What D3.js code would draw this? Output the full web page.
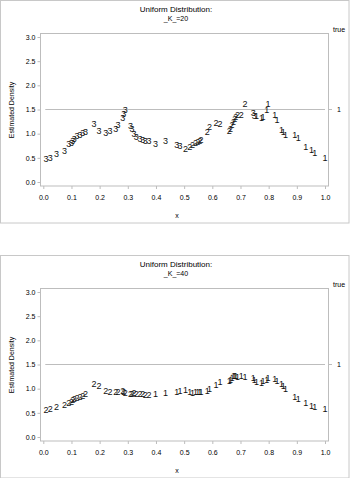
<!DOCTYPE html>
<html>
<head>
<meta charset="utf-8">
<script src="https://cdn.jsdelivr.net/npm/d3@7"></script>
<style>
  body { margin: 0; background: #fff; }
  svg text { font-family: 'Liberation Sans', Arial, sans-serif; fill: #000; }
</style>
</head>
<body>
<svg id="chart" width="350" height="478"></svg>
<script>
// x sample positions (shared by both panels)
var xs = [0.010, 0.025, 0.047, 0.075, 0.090, 0.100, 0.105, 0.110, 0.120, 0.130,
  0.140, 0.150, 0.180, 0.198, 0.222, 0.237, 0.257, 0.265, 0.282, 0.286,
  0.291, 0.310, 0.315, 0.322, 0.330, 0.343, 0.353, 0.362, 0.375, 0.398,
  0.434, 0.474, 0.485, 0.505, 0.520, 0.530, 0.540, 0.548, 0.555, 0.560,
  0.582, 0.590, 0.613, 0.627, 0.660, 0.665, 0.670, 0.675, 0.680, 0.683,
  0.689, 0.703, 0.716, 0.745, 0.749, 0.757, 0.775, 0.780, 0.793, 0.798,
  0.822, 0.830, 0.846, 0.852, 0.860, 0.893, 0.905, 0.932, 0.952, 0.964, 1.000]

// _K_ = 20
var densK20 = [0.47, 0.49, 0.58, 0.65, 0.78, 0.81, 0.84, 0.88, 0.95, 0.98,
  1.02, 1.04, 1.19, 1.06, 1.02, 1.05, 1.10, 1.18, 1.32, 1.40,
  1.48, 1.15, 1.09, 1.00, 0.93, 0.90, 0.87, 0.85, 0.85, 0.78,
  0.85, 0.76, 0.75, 0.68, 0.72, 0.76, 0.80, 0.83, 0.85, 0.87,
  1.04, 1.13, 1.23, 1.20, 1.05, 1.10, 1.18, 1.25, 1.30, 1.35,
  1.39, 1.38, 1.61, 1.42, 1.36, 1.36, 1.33, 1.34, 1.49, 1.62,
  1.39, 1.28, 1.08, 1.04, 0.98, 0.98, 0.92, 0.73, 0.66, 0.60, 0.49]
var clusK20 = [3, 3, 3, 3, 3, 3, 3, 3, 3, 3, 3, 3, 3, 3, 3, 3, 3, 3, 3, 3,
  3, 3, 3, 3, 3, 3, 3, 3, 3, 3, 3, 3, 3, 2, 2, 2, 2, 2, 2, 2,
  2, 2, 2, 2, 2, 2, 2, 2, 2, 2, 2, 2, 2, 3, 3, 1, 1, 1, 1, 1,
  1, 1, 1, 1, 1, 1, 1, 1, 1, 1, 1]

// _K_ = 40
var densK40 = [0.56, 0.58, 0.62, 0.66, 0.70, 0.73, 0.76, 0.78, 0.80, 0.83,
  0.85, 0.88, 1.09, 1.05, 0.95, 0.93, 0.93, 0.93, 0.95, 0.93,
  0.92, 0.90, 0.90, 0.91, 0.90, 0.89, 0.88, 0.87, 0.86, 0.90,
  0.91, 0.93, 0.96, 0.98, 0.93, 0.92, 0.93, 0.93, 0.94, 0.94,
  0.95, 0.99, 1.07, 1.13, 1.15, 1.18, 1.22, 1.26, 1.27, 1.26,
  1.25, 1.26, 1.24, 1.22, 1.18, 1.14, 1.12, 1.16, 1.18, 1.22,
  1.19, 1.16, 1.10, 1.06, 0.99, 0.83, 0.79, 0.70, 0.65, 0.63, 0.58]
var clusK40 = [2, 2, 2, 2, 2, 2, 2, 2, 2, 2, 2, 2, 2, 2, 2, 2, 2, 2, 2, 2,
  2, 2, 2, 2, 2, 2, 2, 2, 2, 1, 1, 1, 1, 1, 1, 1, 1, 1, 1, 1,
  1, 1, 1, 1, 1, 1, 1, 1, 1, 1, 1, 1, 1, 1, 1, 1, 1, 1, 1, 1,
  1, 1, 1, 1, 1, 1, 1, 1, 1, 1, 1]

var xTicks = [0, 0.1, 0.2, 0.3, 0.4, 0.5, 0.6, 0.7, 0.8, 0.9, 1.0]
var yTicks = [0, 0.5, 1.0, 1.5, 2.0, 2.5, 3.0]
var trueDensity = 1.5

var panels = [
  {k: 20, dens: densK20, clus: clusK20, top: 0},
  {k: 40, dens: densK40, clus: clusK40, top: 255}
]

var svg = d3.select('#chart')
var lineGrey = '#bdbdbd'

var x = d3.scaleLinear().domain([0, 1]).range([43.3, 325])

function label(g, px, py, size, txt) {
  return g.append('text').attr('x', px).attr('y', py)
    .attr('text-anchor', 'middle').attr('dominant-baseline', 'central')
    .attr('font-size', size).style('fill', '#000').text(txt)
}

panels.forEach(function(p) {
  var g = svg.append('g').attr('transform', 'translate(0,' + p.top + ')')
  var y = d3.scaleLinear().domain([0, 3]).range([182, 37])

  // panel border
  g.append('rect')
    .attr('x', 0.5).attr('y', 0.5)
    .attr('width', 348.5).attr('height', 222.5)
    .attr('fill', 'none').attr('stroke', '#c8c8c8')

  // titles
  label(g, 176, 9, 8, 'Uniform Distribution:')
  label(g, 176, 18.5, 7, '_K_=' + p.k)

  // frame
  g.append('rect')
    .attr('x', 40.5).attr('y', 33.5)
    .attr('width', 288).attr('height', 152.5)
    .attr('fill', 'none').attr('stroke', lineGrey)

  // axes
  var ya = g.append('g').attr('transform', 'translate(40.5,0)')
    .call(d3.axisLeft(y).tickValues(yTicks).tickSize(3).tickPadding(2).tickFormat(d3.format('.1f')))
  var xa = g.append('g').attr('transform', 'translate(0,186)')
    .call(d3.axisBottom(x).tickValues(xTicks).tickSize(3).tickPadding(6).tickFormat(d3.format('.1f')))
  ;[ya, xa].forEach(function(a) {
    a.select('.domain').remove()
    a.selectAll('line').attr('stroke', lineGrey)
    a.selectAll('text').attr('font-size', 7).style('fill', '#000')
      .style('font-family', "'Liberation Sans', Arial, sans-serif")
  })

  // axis labels
  label(g, 177, 215, 7, 'x')
  label(g, 0, 0, 7, 'Estimated Density')
    .attr('transform', 'translate(11,110) rotate(-90)')

  // true density reference line
  g.append('line')
    .attr('x1', x(0) + 2).attr('x2', x(1))
    .attr('y1', y(trueDensity)).attr('y2', y(trueDensity))
    .attr('stroke', lineGrey).attr('stroke-width', 1)
  g.append('line')
    .attr('x1', 328.5).attr('x2', 332)
    .attr('y1', y(trueDensity)).attr('y2', y(trueDensity))
    .attr('stroke', lineGrey)
  label(g, 339, y(trueDensity), 7, '1')
  label(g, 339, 29, 7, 'true')

  // estimated density points, drawn as cluster numbers
  g.append('g')
    .selectAll('text')
    .data(xs.map(function(v, i) { return {x: v, d: p.dens[i], c: p.clus[i]} }))
    .enter().append('text')
    .attr('x', function(d) { return x(d.x) })
    .attr('y', function(d) { return y(d.d) })
    .attr('text-anchor', 'middle')
    .attr('dominant-baseline', 'central')
    .attr('font-size', 9)
    .style('fill', '#111')
    .text(function(d) { return d.c })
})
</script>
</body>
</html>
